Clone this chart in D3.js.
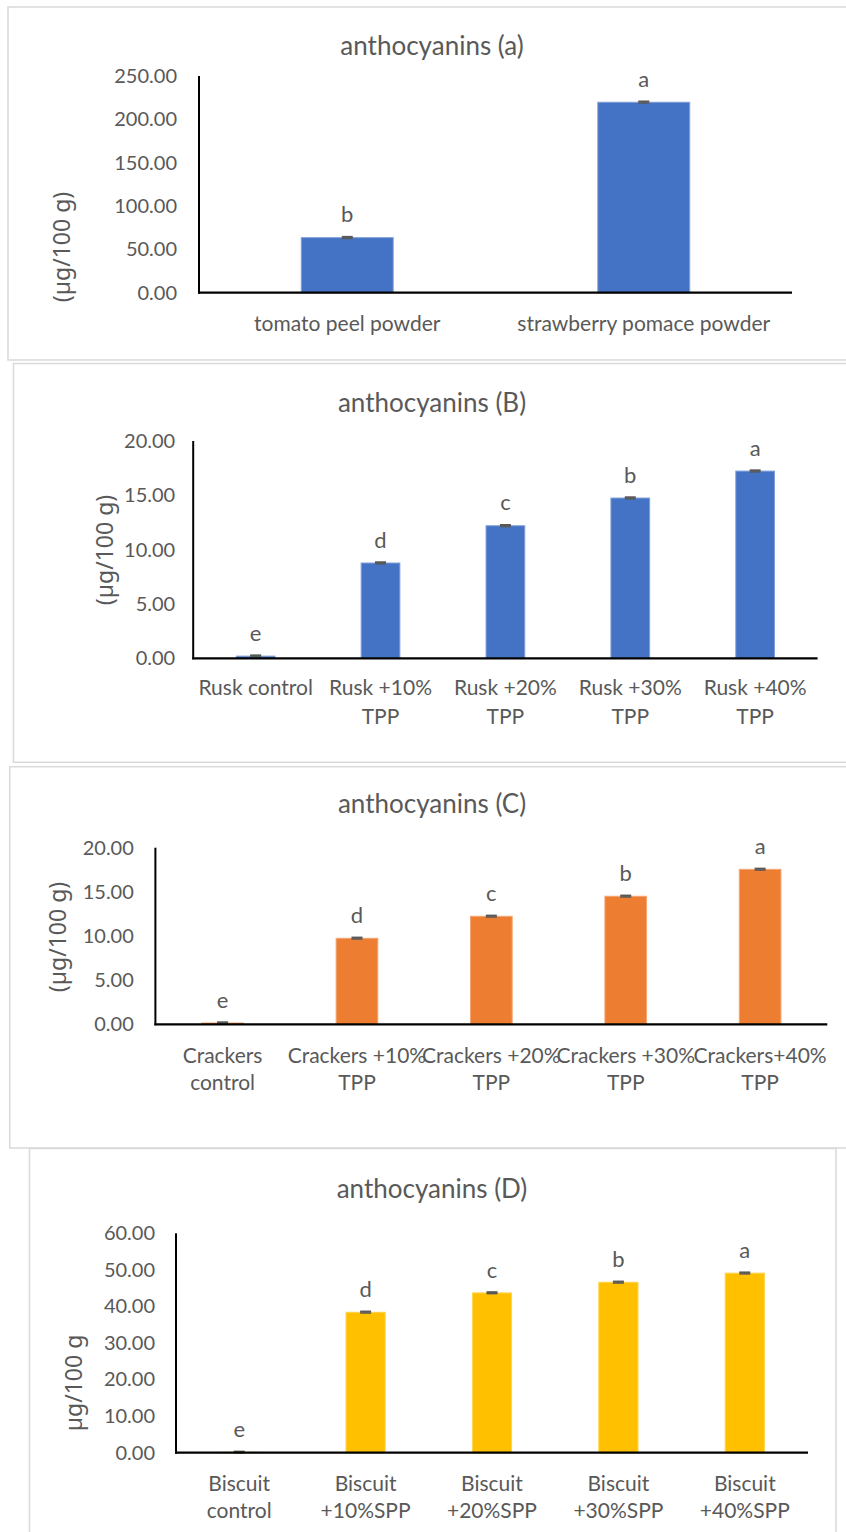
<!DOCTYPE html>
<html>
<head>
<meta charset="utf-8">
<script src="https://cdn.jsdelivr.net/npm/d3@7"></script>
<style>
  body { margin: 0; background: #fff; }
  svg text { font-family: "Lato", "Open Sans", sans-serif; fill: #595959; }
  svg text.ylab { font-family: "Noto Sans", "Open Sans", sans-serif; }
</style>
</head>
<body>
<div id="chart"></div>
<script>
// chart data
var catsA = [["tomato peel powder"], ["strawberry pomace powder"]];
var valsA = [63.5, 219.7];
var errsA = [0.9, 0.9];
var lettersA = ["b", "a"];
var ticksA = [0, 50, 100, 150, 200, 250];

var catsB = [["Rusk control"], ["Rusk +10%", "TPP"], ["Rusk +20%", "TPP"], ["Rusk +30%", "TPP"], ["Rusk +40%", "TPP"]];
var valsB = [0.2, 8.77, 12.2, 14.75, 17.23];
var errsB = [0.07, 0.07, 0.07, 0.07, 0.07];
var lettersB = ["e", "d", "c", "b", "a"];
var ticksB = [0, 5, 10, 15, 20];

var catsC = [["Crackers", "control"], ["Crackers +10%", "TPP"], ["Crackers +20%", "TPP"], ["Crackers +30%", "TPP"], ["Crackers+40%", "TPP"]];
var valsC = [0.15, 9.74, 12.23, 14.5, 17.55];
var errsC = [0.08, 0.08, 0.08, 0.08, 0.08];
var lettersC = ["e", "d", "c", "b", "a"];
var ticksC = [0, 5, 10, 15, 20];

var catsD = [["Biscuit", "control"], ["Biscuit", "+10%SPP"], ["Biscuit", "+20%SPP"], ["Biscuit", "+30%SPP"], ["Biscuit", "+40%SPP"]];
var valsD = [0.1, 38.4, 43.7, 46.6, 49.1];
var errsD = [0.2, 0.2, 0.2, 0.2, 0.2];
var lettersD = ["e", "d", "c", "b", "a"];
var ticksD = [0, 10, 20, 30, 40, 50, 60];

var svg = d3.select("#chart").append("svg")
            .attr("width", 846)
            .attr("height", 1532);

function drawPanel(p) {
	var g = svg.append("g");

	// frame
	g.append("rect")
		.attr("x", p.box[0]).attr("y", p.box[1])
		.attr("width", p.box[2] - p.box[0]).attr("height", p.box[3] - p.box[1])
		.attr("fill", "#fff")
		.attr("stroke", "#d9d9d9")
		.attr("stroke-width", 1.5);

	g.append("text")
		.attr("x", 432).attr("y", p.titleY)
		.attr("text-anchor", "middle")
		.attr("dominant-baseline", "central")
		.style("font-size", "26px")
		.text(p.title);

	var x = d3.scaleBand()
		.domain(d3.range(p.cats.length))
		.range([p.x0, p.x1])
		.paddingInner(0.69)
		.paddingOuter(0.345);

	var y = d3.scaleLinear()
		.domain([0, p.max])
		.range([p.yBot, p.yTop]);

	// y tick labels
	var yAxis = d3.axisLeft(y)
		.tickValues(p.ticks)
		.tickSize(0)
		.tickPadding(p.pad)
		.tickFormat(d3.format(".2f"));
	var ya = g.append("g")
		.attr("transform", "translate(" + p.x0 + ",0)")
		.call(yAxis);
	ya.select(".domain").remove();
	ya.selectAll("text").style("font-size", "20px").attr("fill", "#595959");

	// bars
	g.selectAll(".bar")
		.data(p.vals)
		.enter()
		.append("rect")
		.attr("x", function(d, i) { return x(i); })
		.attr("y", function(d) { return y(d); })
		.attr("width", x.bandwidth())
		.attr("height", function(d) { return p.yBot - y(d); })
		.attr("fill", p.color)
		.attr("stroke", p.edge)
		.attr("stroke-width", 1);

	// error bars
	var eb = g.selectAll(".err")
		.data(p.vals)
		.enter()
		.append("g")
		.attr("transform", function(d, i) { return "translate(" + (x(i) + x.bandwidth() / 2) + ",0)"; });
	eb.append("line")
		.attr("y1", function(d, i) { return y(d + p.errs[i]); })
		.attr("y2", function(d, i) { return y(Math.max(0, d - p.errs[i])); })
		.attr("stroke", "#595959").attr("stroke-width", 1.5);
	eb.append("line")
		.attr("x1", -5.5).attr("x2", 5.5)
		.attr("y1", function(d, i) { return y(d + p.errs[i]); })
		.attr("y2", function(d, i) { return y(d + p.errs[i]); })
		.attr("stroke", "#595959").attr("stroke-width", 2);
	eb.append("line")
		.attr("x1", -5.5).attr("x2", 5.5)
		.attr("y1", function(d, i) { return y(Math.max(0, d - p.errs[i])); })
		.attr("y2", function(d, i) { return y(Math.max(0, d - p.errs[i])); })
		.attr("stroke", "#595959").attr("stroke-width", 1.5);

	// letters
	g.selectAll(".letter")
		.data(p.vals)
		.enter()
		.append("text")
		.attr("x", function(d, i) { return x(i) + x.bandwidth() / 2; })
		.attr("y", function(d, i) { return y(d + p.errs[i]) - 23; })
		.attr("text-anchor", "middle")
		.attr("dominant-baseline", "central")
		.style("font-size", "22px")
		.text(function(d, i) { return p.letters[i]; });

	// axes lines
	g.append("line")
		.attr("x1", p.x0).attr("x2", p.x0)
		.attr("y1", p.yTop).attr("y2", p.yBot + 1)
		.attr("stroke", "#000").attr("stroke-width", 2);
	g.append("line")
		.attr("x1", p.x0 - 1).attr("x2", p.x1)
		.attr("y1", p.yBot).attr("y2", p.yBot)
		.attr("stroke", "#000").attr("stroke-width", 2.3);

	// category labels
	var cl = g.selectAll(".cat")
		.data(p.cats)
		.enter()
		.append("text")
		.attr("text-anchor", "middle")
		.style("font-size", "21px");
	cl.selectAll("tspan")
		.data(function(d, i) { return d.map(function(s) { return { s: s, i: i }; }); })
		.enter()
		.append("tspan")
		.attr("x", function(d) { return x(d.i) + x.bandwidth() / 2; })
		.attr("y", function(d, j) { return p.labY[j]; })
		.attr("dominant-baseline", "central")
		.text(function(d) { return d.s; });

	g.append("text")
		.attr("class", "ylab")
		.attr("transform", "translate(" + p.ylabX + "," + p.ylabY + ") rotate(-90)")
		.attr("text-anchor", "middle")
		.attr("dominant-baseline", "central")
		.style("font-size", "23px")
		.text(p.ylab);
}

drawPanel({ box: [8, 7, 860, 360], title: "anthocyanins (a)", titleY: 45,
	cats: catsA, vals: valsA, errs: errsA, letters: lettersA, ticks: ticksA, max: 250,
	x0: 199, x1: 792, yTop: 76, yBot: 292.7, pad: 22, labY: [322.7],
	ylabX: 61, ylabY: 247, ylab: "(µg/100 g)", color: "#4472C4", edge: "#7F9FD8" });

drawPanel({ box: [13.5, 363.5, 860, 762.3], title: "anthocyanins (B)", titleY: 401.7,
	cats: catsB, vals: valsB, errs: errsB, letters: lettersB, ticks: ticksB, max: 20,
	x0: 193.2, x1: 817.6, yTop: 441, yBot: 658.3, pad: 18, labY: [686.7, 715],
	ylabX: 104, ylabY: 550, ylab: "(µg/100 g)", color: "#4472C4", edge: "#7F9FD8" });

drawPanel({ box: [9.7, 766.7, 860, 1148], title: "anthocyanins (C)", titleY: 803.3,
	cats: catsC, vals: valsC, errs: errsC, letters: lettersC, ticks: ticksC, max: 20,
	x0: 155.4, x1: 827.3, yTop: 847.7, yBot: 1024.3, pad: 21.6, labY: [1054.7, 1081.7],
	ylabX: 56.7, ylabY: 937, ylab: "(µg/100 g)", color: "#ED7D31", edge: "#F4A572" });

drawPanel({ box: [29.5, 1148.5, 836, 1560], title: "anthocyanins (D)", titleY: 1188,
	cats: catsD, vals: valsD, errs: errsD, letters: lettersD, ticks: ticksD, max: 60,
	x0: 176, x1: 808, yTop: 1233.3, yBot: 1452.7, pad: 21, labY: [1482.3, 1509],
	ylabX: 73, ylabY: 1383, ylab: "µg/100 g", color: "#FFC000", edge: "#FFD34D" });
</script>
</body>
</html>
